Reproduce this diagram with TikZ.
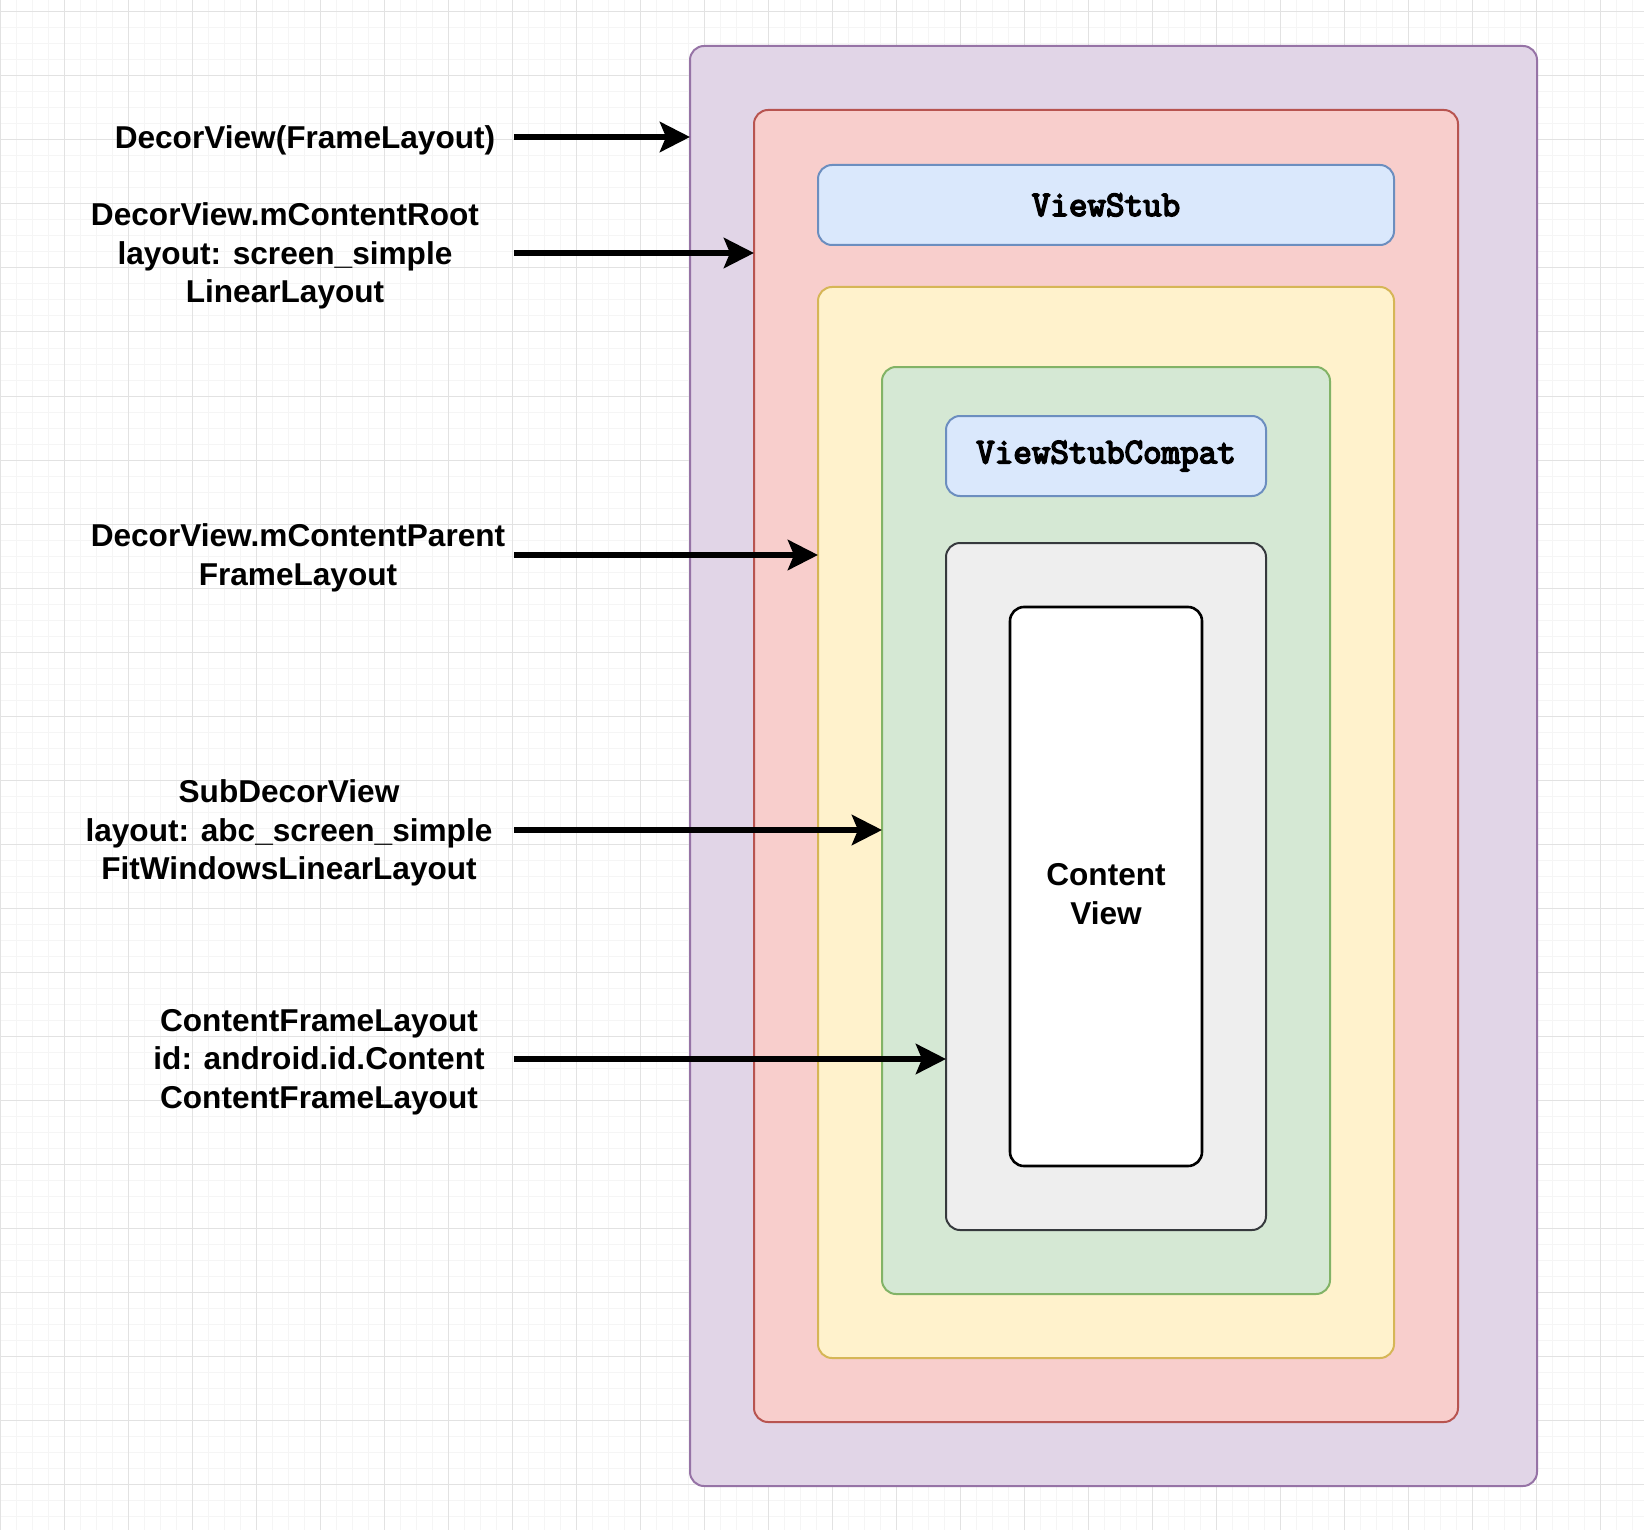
\documentclass[tikz,border=0pt]{standalone}
\usepackage{fontspec}
\setmainfont{Liberation Sans}
\setmonofont{Latin Modern Mono}[AutoFakeBold=4.5]
\usetikzlibrary{arrows.meta}
\definecolor{purpleF}{HTML}{E1D5E7}\definecolor{purpleS}{HTML}{9673A6}
\definecolor{redF}{HTML}{F8CECC}\definecolor{redS}{HTML}{B85450}
\definecolor{yellowF}{HTML}{FFF2CC}\definecolor{yellowS}{HTML}{D6B656}
\definecolor{greenF}{HTML}{D5E8D4}\definecolor{greenS}{HTML}{82B366}
\definecolor{blueF}{HTML}{DAE8FC}\definecolor{blueS}{HTML}{6C8EBF}
\definecolor{grayF}{HTML}{EEEEEE}\definecolor{grayS}{HTML}{36393D}
\definecolor{gridMinor}{HTML}{F5F5F5}\definecolor{gridMajor}{HTML}{E2E2E2}
\tikzset{
  box/.style={draw, line width=1pt, rounded corners=7pt, inner sep=0pt, outer sep=0pt},
  lbl/.style={align=center, inner sep=0pt, font=\fontsize{15.8pt}{19.2pt}\selectfont\bfseries},
  monolbl/.style={font=\fontsize{18pt}{19.2pt}\selectfont\ttfamily\bfseries},
  conn/.style={line width=3.2pt, -{Stealth[length=15pt, width=15pt, inset=3pt]}},
}
\begin{document}
\begin{tikzpicture}[x=0.5pt, y=-0.5pt]
\useasboundingbox[fill=white] (0,0) rectangle (1644,1530);
% grid
\foreach \i in {0,...,102} \draw[gridMinor, line width=0.5pt] (16*\i,0) -- (16*\i,1530);
\foreach \j in {0,...,94} \draw[gridMinor, line width=0.5pt] (0,12+16*\j) -- (1644,12+16*\j);
\foreach \i in {0,...,25} \draw[gridMajor, line width=0.5pt] (64*\i,0) -- (64*\i,1530);
\foreach \j in {0,...,23} \draw[gridMajor, line width=0.5pt] (0,12+64*\j) -- (1644,12+64*\j);
% boxes
\node[box, draw=purpleS, fill=purpleF, minimum width=423.5pt, minimum height=720pt] (decor) at (1113.5,766) {};
\node[box, draw=redS, fill=redF, minimum width=352pt, minimum height=656pt] (root) at (1106,766) {};
\node[box, draw=blueS, fill=blueF, minimum width=288pt, minimum height=40pt, monolbl] (stub) at (1106,205) {ViewStub};
\node[box, draw=yellowS, fill=yellowF, minimum width=288pt, minimum height=535.5pt] (parent) at (1106,822.5) {};
\node[box, draw=greenS, fill=greenF, minimum width=224pt, minimum height=463.5pt] (sub) at (1106,830.5) {};
\node[box, draw=blueS, fill=blueF, minimum width=160pt, minimum height=40pt, monolbl] (compat) at (1106,456) {ViewStubCompat};
\node[box, draw=grayS, fill=grayF, minimum width=160pt, minimum height=343.5pt] (cfl) at (1106,886.5) {};
\node[box, draw=black, line width=1.3pt, fill=white, minimum width=96pt, minimum height=279.5pt] (content) at (1106,886.5) {};
\node[lbl] (ctext) at (1106,894) {Content\\View};
% labels
\node[lbl] (l1) at (305,140) {DecorView(FrameLayout)};
\node[lbl] (l2) at (285,256) {DecorView.mContentRoot\\layout: screen\_simple\\LinearLayout};
\node[lbl] (l3) at (298,558) {DecorView.mContentParent\\FrameLayout};
\node[lbl] (l4) at (289,833) {SubDecorView\\layout: abc\_screen\_simple\\FitWindowsLinearLayout};
\node[lbl] (l5) at (319,1062) {ContentFrameLayout\\id: android.id.Content\\ContentFrameLayout};
% arrow starts
\coordinate (a1) at (514,137);
\coordinate (a2) at (514,253);
\coordinate (a3) at (514,555);
\coordinate (a4) at (514,830);
\coordinate (a5) at (514,1059);
\draw[conn] (a1) -- (a1 -| decor.west);
\draw[conn] (a2) -- (a2 -| root.west);
\draw[conn] (a3) -- (a3 -| parent.west);
\draw[conn] (a4) -- (a4 -| sub.west);
\draw[conn] (a5) -- (a5 -| cfl.west);
\end{tikzpicture}
\end{document}
